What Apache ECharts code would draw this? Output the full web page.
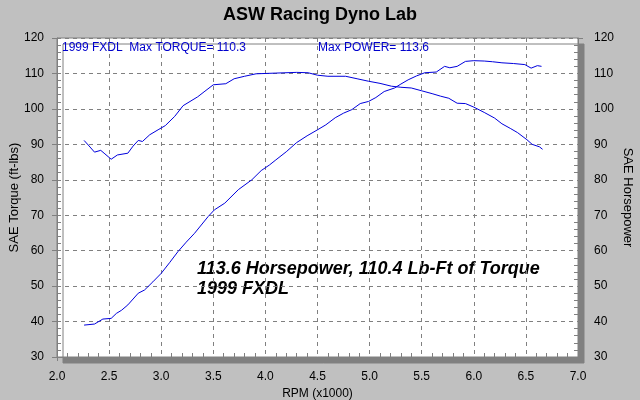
<!DOCTYPE html>
<html>
<head>
<meta charset="utf-8">
<script src="https://cdn.jsdelivr.net/npm/echarts@6/dist/echarts.min.js"></script>
<style>
html,body{margin:0;padding:0;background:#c0c0c0;}
#chart{width:640px;height:400px;}
</style>
</head>
<body>
<div id="chart"></div>
<script>
const torqueRpm = [2.26,2.30,2.36,2.42,2.46,2.52,2.58,2.68,2.73,2.78,2.82,2.89,2.97,3.04,3.13,3.21,3.35,3.42,3.50,3.62,3.70,3.80,3.91,4.10,4.30,4.41,4.50,4.60,4.77,4.88,4.99,5.10,5.21,5.30,5.40,5.50,5.60,5.68,5.76,5.84,5.92,6.00,6.10,6.20,6.27,6.35,6.42,6.51,6.56,6.63,6.66];
const torqueVal = [91.1,89.8,87.8,88.3,87.3,85.8,87.0,87.5,89.5,91.1,90.8,92.7,94.1,95.3,97.9,100.9,103.4,105.0,106.8,107.1,108.5,109.2,109.9,110.1,110.3,110.2,109.5,109.2,109.2,108.5,107.8,107.2,106.4,106.1,105.9,105.1,104.3,103.6,103.0,101.6,101.5,100.5,99.0,97.4,95.8,94.5,93.3,91.3,90.0,89.3,88.6];
const hpRpm = [2.26,2.36,2.44,2.52,2.57,2.62,2.68,2.78,2.84,2.92,3.00,3.08,3.16,3.24,3.32,3.45,3.51,3.61,3.74,3.87,3.96,4.04,4.10,4.20,4.30,4.40,4.50,4.58,4.67,4.75,4.83,4.91,4.99,5.06,5.14,5.24,5.30,5.37,5.45,5.53,5.64,5.72,5.77,5.84,5.92,6.00,6.10,6.18,6.27,6.38,6.49,6.55,6.61,6.65];
const hpVal = [39.0,39.3,40.7,40.9,42.3,43.2,44.7,48.0,48.9,51.2,53.6,56.6,59.7,62.4,64.9,69.6,71.5,73.4,77.2,80.0,82.6,84.2,85.6,87.9,90.5,92.4,94.1,95.5,97.5,98.8,99.8,101.5,102.1,103.2,104.9,105.9,107.0,108.2,109.3,110.2,110.4,112.0,111.6,112.0,113.4,113.6,113.5,113.3,113.0,112.8,112.5,111.5,112.2,112.0];

const titleText = 'ASW Racing Dyno Lab';
const infoLeft = '1999 FXDL  Max TORQUE= 110.3';
const infoRight = 'Max POWER= 113.6';
const bigLine1 = '113.6 Horsepower, 110.4 Lb-Ft of Torque';
const bigLine2 = '1999 FXDL';

const FONT = '"Liberation Sans", Arial, sans-serif';
const chart = echarts.init(document.getElementById('chart'));
const zip = (xs, ys) => xs.map((x, i) => [x, ys[i]]);

const yCommon = {
  type: 'value', min: 30, max: 120, interval: 10,
  axisLine: {show: true, lineStyle: {color: '#808080'}},
  axisTick: {show: true, length: 5, lineStyle: {color: '#808080'}},
  minorTick: {show: true, splitNumber: 5, length: -4, lineStyle: {color: '#808080'}},
  axisLabel: {color: '#000', fontFamily: FONT, fontSize: 12},
  nameLocation: 'middle',
  nameMoveOverlap: false,
  nameTextStyle: {color: '#000', fontFamily: FONT, fontSize: 13}
};

chart.setOption({
  backgroundColor: '#c0c0c0',
  animation: false,
  title: {text: titleText, left: 'center', top: 1,
    textStyle: {fontFamily: FONT, fontSize: 18, fontWeight: 'bold', color: '#000'}},
  grid: {left: 57, right: 62, top: 38, bottom: 43, show: true, backgroundColor: '#fff',
    containLabel: false, outerBoundsMode: 'none',
    borderColor: '#808080', borderWidth: 1,
    shadowColor: '#808080', shadowOffsetX: 6, shadowOffsetY: 6, shadowBlur: 0},
  xAxis: {
    type: 'value', min: 2, max: 7, interval: 0.5,
    name: 'RPM (x1000)', nameLocation: 'middle', nameGap: 28,
    nameTextStyle: {color: '#000', fontFamily: FONT, fontSize: 12},
    axisLine: {show: true, lineStyle: {color: '#808080'}},
    axisTick: {show: true, length: 4, lineStyle: {color: '#808080'}},
    minorTick: {show: true, splitNumber: 5, length: -4, lineStyle: {color: '#808080'}},
    axisLabel: {color: '#000', fontFamily: FONT, fontSize: 12, margin: 14, formatter: v => v.toFixed(1)},
    splitLine: {show: true, lineStyle: {color: '#808080', type: [4, 4]}}
  },
  yAxis: [
    Object.assign({}, yCommon, {position: 'left', name: 'SAE Torque (ft-lbs)', nameGap: 36,
      axisLabel: Object.assign({}, yCommon.axisLabel, {margin: 13}),
      splitLine: {show: true, lineStyle: {color: '#808080', type: [4, 4]}}}),
    Object.assign({}, yCommon, {position: 'right', name: 'SAE Horsepower', nameGap: 43, nameRotate: -90,
      axisLabel: Object.assign({}, yCommon.axisLabel, {margin: 16}),
      splitLine: {show: false}})
  ],
  series: [
    {name: 'Torque', type: 'line', yAxisIndex: 0, data: zip(torqueRpm, torqueVal), showSymbol: false,
      lineStyle: {color: '#0000dd', width: 1}},
    {name: 'Horsepower', type: 'line', yAxisIndex: 1, data: zip(hpRpm, hpVal), showSymbol: false,
      lineStyle: {color: '#0000dd', width: 1}}
  ],
  graphic: [
    {type: 'text', left: 62, top: 42, style: {text: infoLeft, fill: '#0000cc', font: '12px ' + FONT}},
    {type: 'text', left: 318, top: 42, style: {text: infoRight, fill: '#0000cc', font: '12px ' + FONT}},
    {type: 'text', left: 197, top: 260, style: {text: bigLine1, fill: '#000', font: 'italic bold 18px ' + FONT}},
    {type: 'text', left: 197, top: 280, style: {text: bigLine2, fill: '#000', font: 'italic bold 18px ' + FONT}}
  ]
});
</script>
</body>
</html>
